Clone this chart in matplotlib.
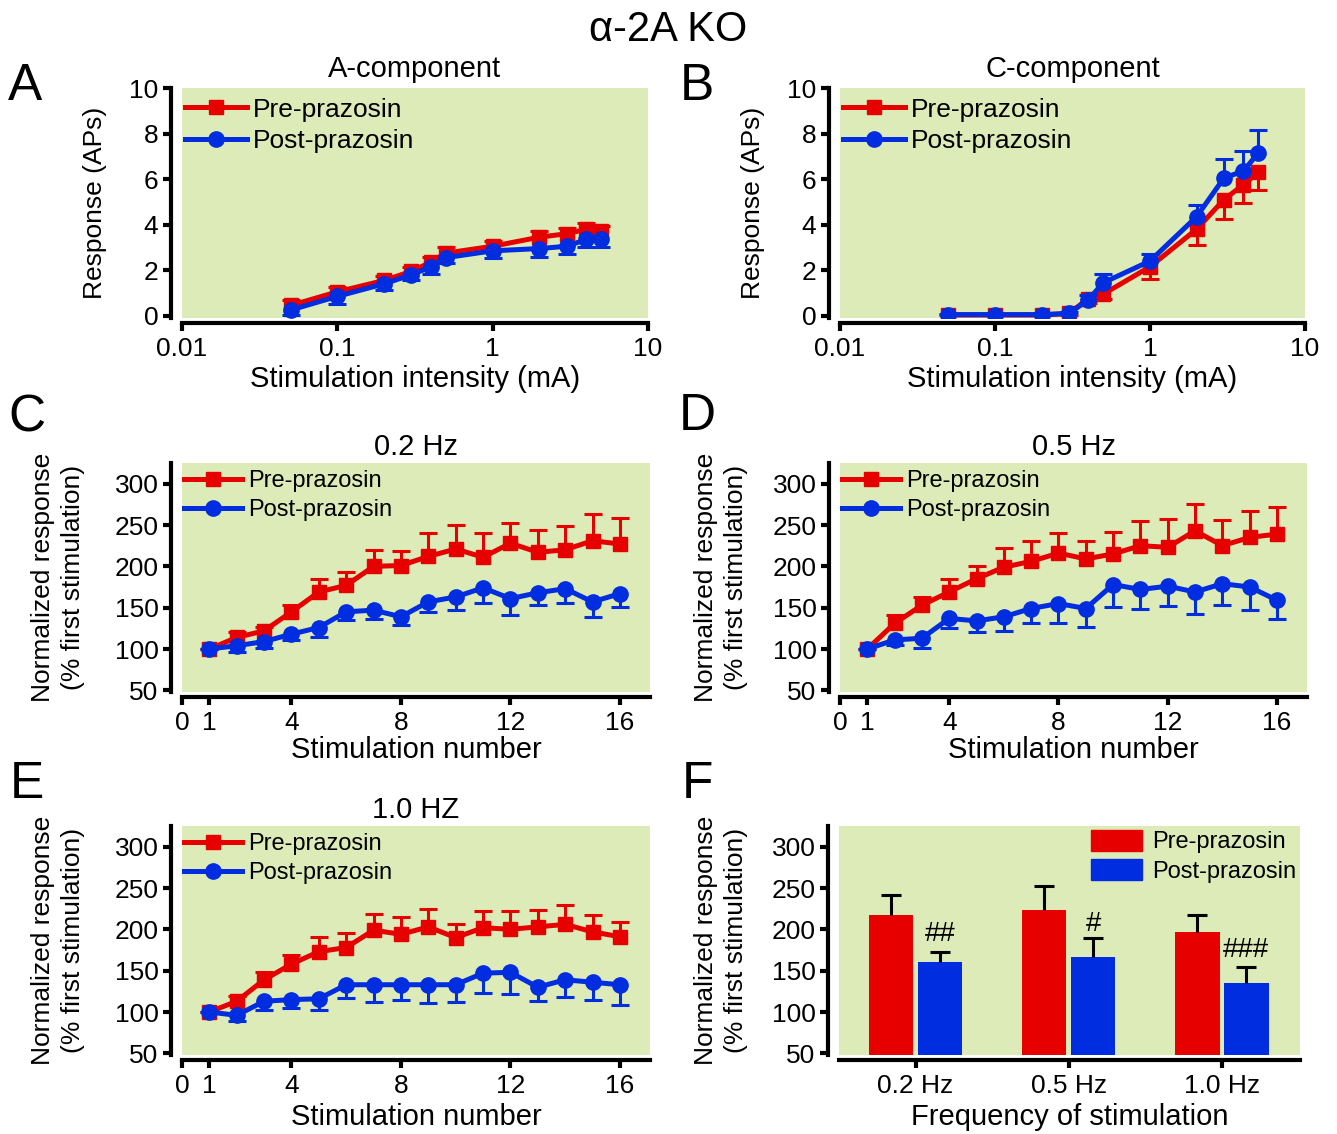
import numpy as np
import matplotlib
matplotlib.use('Agg')
import matplotlib.pyplot as plt
from matplotlib.patches import Patch
from matplotlib.lines import Line2D

plt.rcParams['font.family'] = ['Liberation Sans', 'DejaVu Sans']

# ---- data ----
intensity = [0.05, 0.1, 0.2, 0.3, 0.4, 0.5, 1, 2, 3, 4, 5]
a_pre = [0.45, 1.05, 1.55, 1.95, 2.35, 2.75, 3.05, 3.45, 3.6, 3.8, 3.7]
a_pre_err = [0.25, 0.22, 0.2, 0.2, 0.25, 0.25, 0.25, 0.25, 0.25, 0.25, 0.25]
a_post = [0.25, 0.85, 1.4, 1.8, 2.15, 2.55, 2.85, 2.95, 3.05, 3.35, 3.35]
a_post_err = [0.2, 0.35, 0.25, 0.25, 0.3, 0.25, 0.3, 0.35, 0.35, 0.35, 0.35]

b_pre = [0.03, 0.03, 0.03, 0.1, 0.75, 0.95, 2.15, 3.8, 5.1, 5.75, 6.3]
b_pre_err = [0.02, 0.02, 0.02, 0.05, 0.2, 0.2, 0.55, 0.68, 0.85, 0.78, 0.8]
b_post = [0.05, 0.05, 0.05, 0.1, 0.7, 1.45, 2.4, 4.35, 6.05, 6.35, 7.15]
b_post_err = [0.02, 0.02, 0.02, 0.05, 0.2, 0.4, 0.3, 0.5, 0.85, 0.9, 1.0]

stim = np.arange(1, 17)
c_pre = [100, 114, 122, 145, 169, 177, 200, 201, 212, 221, 211, 228, 217, 220, 231, 227]
c_pre_err = [0, 6, 5, 8, 16, 16, 20, 18, 28, 29, 29, 25, 27, 29, 32, 31]
c_post = [100, 104, 109, 118, 126, 145, 147, 139, 157, 163, 174, 161, 168, 173, 157, 167]
c_post_err = [0, 8, 8, 7, 11, 10, 11, 10, 12, 16, 18, 20, 15, 17, 18, 16]

d_pre = [100, 131, 153, 169, 185, 199, 206, 216, 209, 215, 225, 223, 243, 225, 235, 239]
d_pre_err = [0, 10, 10, 16, 16, 23, 25, 24, 22, 27, 30, 34, 32, 31, 32, 33]
d_post = [100, 111, 113, 137, 134, 139, 149, 155, 149, 178, 172, 176, 169, 179, 175, 159]
d_post_err = [0, 6, 12, 12, 13, 17, 17, 23, 22, 27, 23, 24, 27, 26, 28, 23]

e_pre = [100, 113, 139, 158, 173, 178, 199, 194, 203, 190, 202, 200, 203, 206, 197, 191]
e_pre_err = [0, 6, 10, 11, 18, 17, 19, 21, 22, 17, 20, 22, 20, 23, 20, 18]
e_post = [100, 96, 113, 115, 116, 133, 133, 133, 133, 133, 147, 148, 130, 139, 136, 133]
e_post_err = [0, 7, 11, 10, 13, 16, 21, 19, 22, 21, 24, 26, 17, 21, 22, 24]

freqs = ['0.2 Hz', '0.5 Hz', '1.0 Hz']
f_pre = [217, 223, 197]
f_pre_err = [25, 29, 20]
f_post = [160, 166, 135]
f_post_err = [13, 24, 20]
f_marks = ['##', '#', '###']
f_mark_y = [194, 207, 175]

RED = '#e60000'
BLUE = '#002de0'
BG = '#dcebb8'
FS = 19

W, H = 1337, 1134
fig = plt.figure(figsize=(W / 100, H / 100), dpi=100)


def make_ax(x0, y0, x1, y1):
    ax = fig.add_axes([x0 / W, 1 - y1 / H, (x1 - x0) / W, (y1 - y0) / H])
    ax.set_facecolor(BG)
    for s in ['top', 'right']:
        ax.spines[s].set_visible(False)
    ax.spines['left'].set_position(('outward', 8))
    ax.spines['bottom'].set_position(('outward', 3.6))
    ax.spines['left'].set_linewidth(3)
    ax.spines['bottom'].set_linewidth(3)
    ax.tick_params(width=3, length=6, labelsize=FS, pad=3)
    ax.tick_params(axis='x', pad=4)
    return ax


def one_side_err(ax, x, y, err, color, up=True, cap=13):
    # error bar drawn to one side only, cap only at the far end
    y = np.asarray(y, float)
    err = np.asarray(err, float)
    z = np.zeros(len(y))
    ax.errorbar(x, y, yerr=[z, err] if up else [err, z], fmt='none',
                ecolor=color, elinewidth=2.2, capsize=0)
    end = y + err if up else y - err
    ax.plot(x, end, ls='none', marker='_', ms=cap, mew=2.2, color=color)


def lines(ax, x, pre, pre_err, post, post_err, pre_up=True, hl=2.35,
          dy=0.03, fs=FS, ls=0.28):
    one_side_err(ax, x, pre, pre_err, RED, up=pre_up)
    ax.plot(x, pre, color=RED, marker='s', ms=10, lw=3.6)
    one_side_err(ax, x, post, post_err, BLUE, up=not pre_up)
    ax.plot(x, post, color=BLUE, marker='o', ms=11, lw=3.6)
    handles = [Line2D([], [], color=RED, marker='s', ms=10, lw=3.6, label='Pre-prazosin'),
               Line2D([], [], color=BLUE, marker='o', ms=11, lw=3.6, label='Post-prazosin')]
    ax.legend(handles=handles, loc='upper left', bbox_to_anchor=(0.0, 1 - dy),
              frameon=False, fontsize=fs, handlelength=hl, borderaxespad=0,
              labelspacing=ls, handletextpad=0.25, borderpad=0.1)


# A
axA = make_ax(182, 88, 648, 318)
lines(axA, intensity, a_pre, a_pre_err, a_post, a_post_err, pre_up=True, dy=0.03)
axA.set_xscale('log')
axA.set_xlim(0.01, 10)
axA.set_ylim(-0.1, 10)
axA.set_xticks([0.01, 0.1, 1, 10])
axA.set_xticklabels(['0.01', '0.1', '1', '10'])
axA.minorticks_off()
axA.set_yticks([0, 2, 4, 6, 8, 10])
axA.set_title('A-component', fontsize=21, pad=8)
axA.set_xlabel('Stimulation intensity (mA)', fontsize=21)
axA.set_ylabel('Response (APs)', fontsize=FS)
axA.xaxis.set_label_coords(0.5, -0.205)
axA.yaxis.set_label_coords(-0.16, 0.5)

# B
axB = make_ax(840, 88, 1305, 318)
lines(axB, intensity, b_pre, b_pre_err, b_post, b_post_err, pre_up=False, dy=0.03)
axB.set_xscale('log')
axB.set_xlim(0.01, 10)
axB.set_ylim(-0.1, 10)
axB.set_xticks([0.01, 0.1, 1, 10])
axB.set_xticklabels(['0.01', '0.1', '1', '10'])
axB.minorticks_off()
axB.set_yticks([0, 2, 4, 6, 8, 10])
axB.set_title('C-component', fontsize=21, pad=8)
axB.set_xlabel('Stimulation intensity (mA)', fontsize=21)
axB.set_ylabel('Response (APs)', fontsize=FS)
axB.xaxis.set_label_coords(0.5, -0.205)
axB.yaxis.set_label_coords(-0.161, 0.5)

ylab = 'Normalized response\n(% first stimulation)'

# C, D, E
for (x0, y0, x1, y1), pre, pe, post, qe, title, lx, xly in [
        ((182, 463, 650, 692), c_pre, c_pre_err, c_post, c_post_err, '0.2 Hz', -0.207, -0.19),
        ((840, 463, 1307, 692), d_pre, d_pre_err, d_post, d_post_err, '0.5 Hz', -0.198, -0.19),
        ((182, 826, 650, 1055), e_pre, e_pre_err, e_post, e_post_err, '1.0 HZ', -0.207, -0.21)]:
    ax = make_ax(x0, y0, x1, y1)
    lines(ax, stim, pre, pe, post, qe, pre_up=True, hl=2.45, dy=0.02, fs=17, ls=0.3)
    ax.set_xlim(0, 17.1)
    ax.set_ylim(48, 325)
    ax.set_xticks([0, 1, 4, 8, 12, 16])
    ax.set_yticks([50, 100, 150, 200, 250, 300])
    ax.set_title(title, fontsize=21, pad=6)
    ax.set_xlabel('Stimulation number', fontsize=21)
    ax.set_ylabel(ylab, fontsize=FS, linespacing=1.3)
    ax.xaxis.set_label_coords(0.5, xly)
    ax.yaxis.set_label_coords(lx, 0.5)

# F
axF = make_ax(839, 826, 1300, 1055)
xg = np.arange(len(freqs))
bw = 0.29
axF.bar(xg - 0.16, np.array(f_pre) - 48, bw, bottom=48, color=RED)
axF.bar(xg + 0.16, np.array(f_post) - 48, bw, bottom=48, color=BLUE)
one_side_err(axF, xg - 0.16, f_pre, f_pre_err, 'black', cap=14)
one_side_err(axF, xg + 0.16, f_post, f_post_err, 'black', cap=14)
for i, (m, my) in enumerate(zip(f_marks, f_mark_y)):
    axF.text(xg[i] + 0.16, my, m, ha='center', va='center', fontsize=20)
axF.set_xlim(-0.5, 2.51)
axF.set_ylim(48, 325)
axF.set_xticks(xg)
axF.set_xticklabels(freqs)
axF.set_yticks([50, 100, 150, 200, 250, 300])
axF.set_xlabel('Frequency of stimulation', fontsize=21)
axF.set_ylabel(ylab, fontsize=FS, linespacing=1.3)
axF.xaxis.set_label_coords(0.5, -0.21)
axF.yaxis.set_label_coords(-0.198, 0.5)
axF.legend(handles=[Patch(color=RED, label='Pre-prazosin'),
                    Patch(color=BLUE, label='Post-prazosin')],
           loc='upper right', frameon=False, fontsize=17, handlelength=2.15,
           handleheight=1.0, labelspacing=0.25, handletextpad=0.45,
           borderaxespad=0.0, borderpad=0.15)

# titles and panel letters
fig.text(668 / W, 1 - 30 / H, 'α-2A KO', ha='center', va='center', fontsize=30)
for letter, px, py in [('A', 25, 87), ('B', 697, 87), ('C', 27, 418),
                       ('D', 697, 416), ('E', 27, 784), ('F', 697, 784)]:
    fig.text(px / W, 1 - py / H, letter, ha='center', va='center', fontsize=37)

fig.savefig('out.png', dpi=100)
